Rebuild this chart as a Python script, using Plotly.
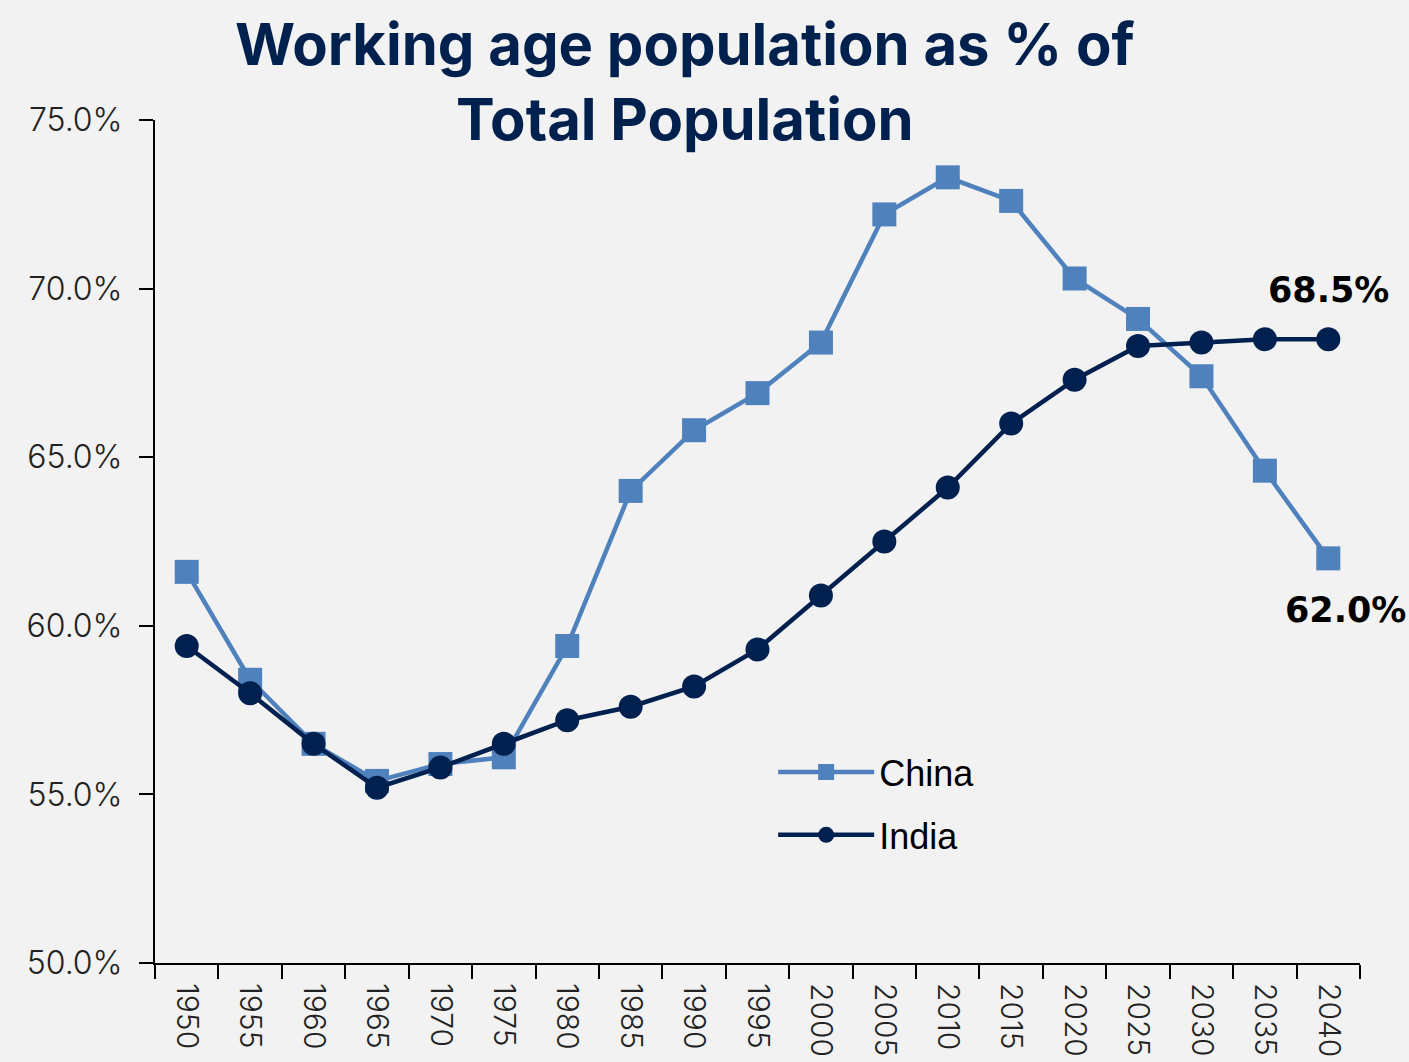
import plotly.graph_objects as go

years = ["1950", "1955", "1960", "1965", "1970", "1975", "1980", "1985", "1990", "1995",
         "2000", "2005", "2010", "2015", "2020", "2025", "2030", "2035", "2040"]
china = [61.6, 58.4, 56.5, 55.4, 55.9, 56.1, 59.4, 64.0, 65.8, 66.9,
         68.4, 72.2, 73.3, 72.6, 70.3, 69.1, 67.4, 64.6, 62.0]
india = [59.4, 58.0, 56.5, 55.2, 55.8, 56.5, 57.2, 57.6, 58.2, 59.3,
         60.9, 62.5, 64.1, 66.0, 67.3, 68.3, 68.4, 68.5, 68.5]

china_color = "#4F81BD"
india_color = "#002050"
title_color = "#00204E"

fig = go.Figure()
fig.add_trace(go.Scatter(
    x=years, y=[v / 100 for v in china], name="China", mode="lines+markers",
    legendgroup="china",
    line=dict(color=china_color, width=4.5),
    marker=dict(symbol="square", size=24, color=china_color),
))
fig.add_trace(go.Scatter(
    x=years, y=[v / 100 for v in india], name="India", mode="lines+markers",
    legendgroup="india",
    line=dict(color=india_color, width=4.5),
    marker=dict(symbol="circle", size=24, color=india_color),
))

# end-point value labels (x given as category index)
last = len(years) - 1
label_font = dict(family="DejaVu Sans", size=35, color="black")
fig.add_annotation(x=last, y=india[-1] / 100, text=f"<b>{india[-1]:.1f}%</b>",
                   showarrow=False, xshift=0, yshift=49, font=label_font)
fig.add_annotation(x=last, y=china[-1] / 100, text=f"<b>{china[-1]:.1f}%</b>",
                   showarrow=False, xshift=17, yshift=-52, font=label_font)

fig.update_layout(
    width=1409, height=1062,
    paper_bgcolor="#F2F2F2", plot_bgcolor="#F2F2F2",
    margin=dict(l=155, r=49, t=120, b=99),
    title=dict(text="Working age population as % of<br>Total Population",
               x=0.486, xanchor="center", yref="container", y=1 - 65 / 1062,
               yanchor="middle",
               font=dict(family="Inter", size=58, color=title_color, weight=700)),
    showlegend=True,
    legend=dict(x=0.513, y=0.262, xanchor="left", yanchor="top",
                bgcolor="rgba(0,0,0,0)", itemwidth=96, tracegroupgap=13,
                font=dict(family="Arial", size=36, color="black")),
    xaxis=dict(type="category", range=[-0.5, last + 0.5], tickson="boundaries",
               ticks="outside", ticklen=14, tickwidth=2, tickcolor="black",
               showline=True, linecolor="black", linewidth=2, showgrid=False,
               tickangle=90, ticklabelstandoff=12, automargin=False,
               tickfont=dict(family="Inter", size=30, color="#222222", weight=300)),
    yaxis=dict(range=[0.5, 0.75], dtick=0.05, tickformat=".1%", ticks="outside",
               ticklen=14, tickwidth=2, tickcolor="black", showline=True,
               linecolor="black", linewidth=2, showgrid=False, zeroline=False,
               ticklabelstandoff=10, automargin=False,
               tickfont=dict(family="Inter", size=32, color="#222222", weight=300)),
)

fig.write_html("out.html")
